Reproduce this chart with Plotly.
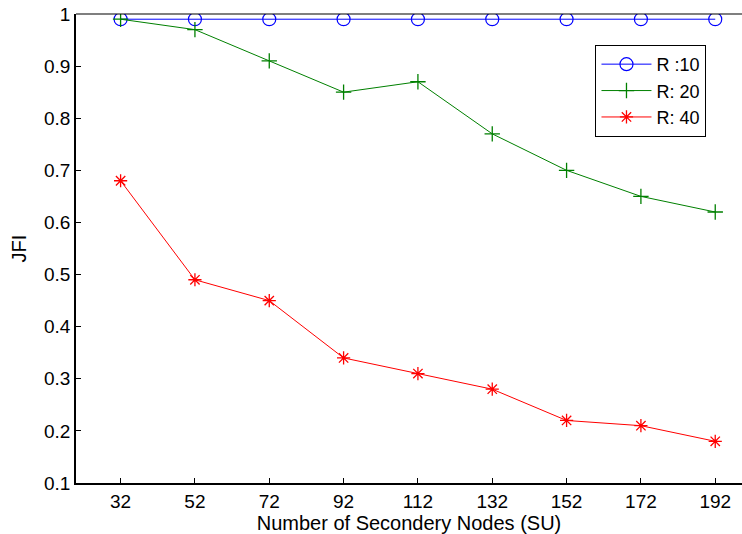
import plotly.graph_objects as go

x_nodes = [32, 52, 72, 92, 112, 132, 152, 172, 192]
r10 = [0.99, 0.99, 0.99, 0.99, 0.99, 0.99, 0.99, 0.99, 0.99]
r20 = [0.99, 0.97, 0.91, 0.85, 0.87, 0.77, 0.70, 0.65, 0.62]
r40 = [0.68, 0.49, 0.45, 0.34, 0.31, 0.28, 0.22, 0.21, 0.18]
y_ticks = [0.1, 0.2, 0.3, 0.4, 0.5, 0.6, 0.7, 0.8, 0.9, 1]
y_tick_text = ["0.1", "0.2", "0.3", "0.4", "0.5", "0.6", "0.7", "0.8", "0.9", "1"]

FONT = "Liberation Sans, Arial, sans-serif"

fig = go.Figure()
fig.add_trace(go.Scatter(x=x_nodes, y=r10, name="R :10", mode="lines+markers",
                         line=dict(color="rgb(0,0,255)", width=1),
                         marker=dict(symbol="circle-open", size=13, color="rgb(0,0,255)", line=dict(width=1.2))))
fig.add_trace(go.Scatter(x=x_nodes, y=r20, name="R: 20", mode="lines+markers",
                         line=dict(color="rgb(0,128,0)", width=1),
                         marker=dict(symbol="cross-thin-open", size=11, color="rgb(0,128,0)", line=dict(width=1.3, color="rgb(0,128,0)"))))
fig.add_trace(go.Scatter(x=x_nodes, y=r40, name="R: 40", mode="lines+markers",
                         line=dict(color="rgb(255,0,0)", width=1),
                         marker=dict(symbol="asterisk-open", size=11, color="rgb(255,0,0)", line=dict(width=1.3, color="rgb(255,0,0)"))))

fig.update_layout(
    width=742, height=534,
    margin=dict(l=76, r=0, t=14, b=51),
    paper_bgcolor="white", plot_bgcolor="white",
    font=dict(family=FONT, size=19, color="black"),
    showlegend=True,
    legend=dict(x=0.78, y=0.934, xanchor="left", yanchor="top",
                bordercolor="black", borderwidth=1, bgcolor="white",
                font=dict(size=18), tracegroupgap=0, itemwidth=50),
    xaxis=dict(range=[20, 199.2], tickvals=x_nodes, ticks="inside", ticklen=5,
               tickcolor="black", showline=True, linecolor="black", linewidth=1.5,
               showgrid=False, zeroline=False,
               title=dict(text="Number of Secondery Nodes (SU)", standoff=2, font=dict(size=20))),
    yaxis=dict(range=[0.1, 1], tickvals=y_ticks, ticktext=y_tick_text, ticks="inside", ticklen=5,
               tickcolor="black", showline=True, linecolor="black", linewidth=1.5,
               showgrid=False, zeroline=False,
               title=dict(text="JFI", standoff=12, font=dict(size=20))),
    shapes=[dict(type="line", xref="paper", yref="paper", x0=0, x1=1, y0=1, y1=1,
                 line=dict(color="black", width=1.2))],
)

fig.write_html("out.html", config={"displayModeBar": False},
               post_script="document.body.style.margin='0px';document.body.style.overflow='hidden';")
